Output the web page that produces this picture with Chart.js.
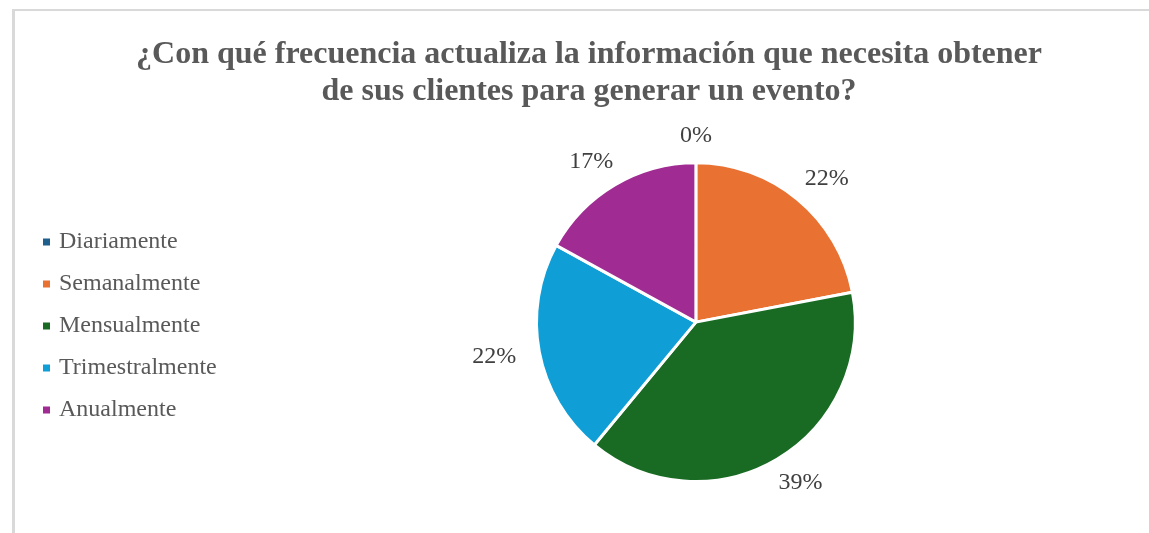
<!DOCTYPE html>
<html>
<head>
<meta charset="utf-8">
<script src="https://cdn.jsdelivr.net/npm/chart.js@4"></script>
<style>
    html, body { margin: 0; padding: 0; background: #fff; overflow: hidden; }
    #wrap { position: relative; width: 1149px; height: 533px; overflow: hidden; }
    #frame {
        position: absolute; left: 12px; top: 9px; width: 1300px; height: 600px;
        border-top: 2px solid #d9d9d9; border-left: 3px solid #d9d9d9;
    }
    #js--chart { position: absolute; left: 0; top: 0; }
</style>
</head>
<body>
<div id="wrap">
    <div id="frame"></div>
    <canvas id="js--chart" width="1177" height="533"></canvas>
</div>
<script>
const titleLines = [
    "¿Con qué frecuencia actualiza la información que necesita obtener",
    "de sus clientes para generar un evento?"
];

const labels = [
    "Diariamente",
    "Semanalmente",
    "Mensualmente",
    "Trimestralmente",
    "Anualmente"
];

// porcentajes
const percentages = [0, 22, 39, 22, 17];

const colors = ['#1f5f8b', '#e97132', '#196b24', '#0f9ed5', '#a02b93'];

const serif = "'Liberation Serif', 'Times New Roman', serif";

// etiquetas de porcentaje fuera del pastel
const outsideLabels = {
    id: 'outsideLabels',
    afterDatasetsDraw(chart) {
        const ctx = chart.ctx;
        const meta = chart.getDatasetMeta(0);
        ctx.save();
        ctx.font = '24px ' + serif;
        ctx.fillStyle = '#404040';
        ctx.textAlign = 'center';
        ctx.textBaseline = 'middle';
        meta.data.forEach((arc, i) => {
            const p = arc.getProps(['x', 'y', 'startAngle', 'endAngle', 'outerRadius'], true);
            const mid = (p.startAngle + p.endAngle) / 2;
            const rx = p.outerRadius + 46;
            const ry = p.outerRadius + 27;
            ctx.fillText(percentages[i] + '%', p.x + Math.cos(mid) * rx, p.y + Math.sin(mid) * ry);
        });
        ctx.restore();
    }
};

const data = {
    labels: labels,
    datasets: [
        {
            data: percentages,
            backgroundColor: colors,
            borderColor: '#ffffff',
            borderWidth: 3
        }
    ]
};

const config = {
    type: 'pie',
    data: data,
    options: {
        responsive: false,
        animation: false,
        layout: {
            padding: { left: 13, right: 12, top: 0, bottom: 50 }
        },
        plugins: {
            title: {
                display: true,
                text: titleLines,
                color: '#595959',
                font: { family: serif, size: 32, weight: 'bold', lineHeight: 1.16 },
                padding: { top: 36, bottom: 51 }
            },
            // hueco vacio a la izquierda de la leyenda
            subtitle: {
                display: true,
                position: 'left',
                fullSize: false,
                text: '',
                font: { size: 1, lineHeight: 1 },
                padding: { top: 0, bottom: 14 }
            },
            legend: {
                position: 'left',
                align: 'center',
                fullSize: false,
                title: {
                    display: true,
                    text: '',
                    font: { size: 8, lineHeight: 1 },
                    padding: 0
                },
                labels: {
                    color: '#595959',
                    font: { family: serif, size: 24 },
                    usePointStyle: true,
                    pointStyle: 'rect',
                    boxWidth: 1,
                    boxHeight: 7,
                    padding: 18,
                    generateLabels(chart) {
                        const items = Chart.overrides.pie.plugins.legend.labels.generateLabels(chart);
                        items.forEach(item => { item.lineWidth = 0; });
                        return items;
                    }
                }
            },
            tooltip: { enabled: false }
        }
    },
    plugins: [outsideLabels]
};

new Chart(document.getElementById("js--chart"), config);
</script>
</body>
</html>
